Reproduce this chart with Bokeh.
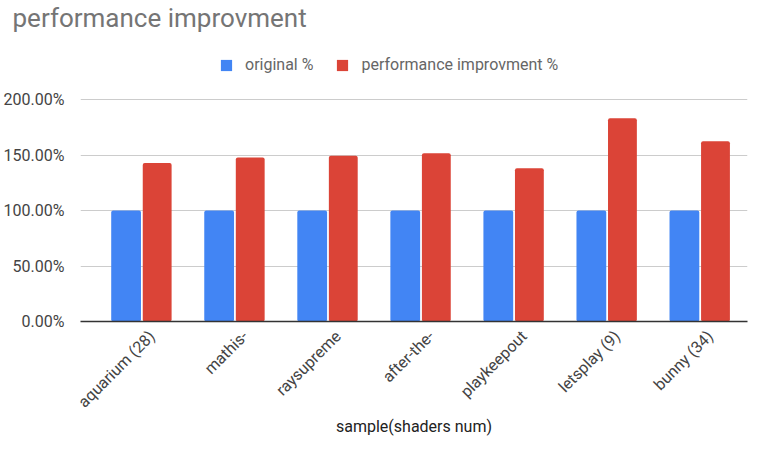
import math
from bokeh.plotting import figure
from bokeh.models import (ColumnDataSource, Range1d, FixedTicker, PrintfTickFormatter,
                          Legend, LegendItem)
from bokeh.transform import dodge
from bokeh.embed import file_html
from bokeh.resources import INLINE

categories = ["aquarium (28)", "mathis-", "raysupreme", "after-the-",
              "playkeepout", "letsplay (9)", "bunny (34)"]
original = [100, 100, 100, 100, 100, 100, 100]
improved = [143.0, 147.8, 149.4, 151.8, 138.3, 183.3, 162.6]
y_ticks = [0, 50, 100, 150, 200]

BLUE = "#4285F4"
RED = "#DB4437"
FONT = "Roboto"
LABEL_SHIFT = 0.11  # rotated labels end slightly right of the group centre

src = ColumnDataSource(dict(x=list(range(len(categories))), orig=original, imp=improved))

p = figure(width=749, height=438, output_backend="svg", toolbar_location=None,
           x_range=Range1d(-0.658, 6.51), y_range=Range1d(0, 260.6),
           min_border_left=72, min_border_right=2, min_border_top=30,
           min_border_bottom=110)
p.outline_line_color = None

r1 = p.vbar(x=dodge("x", -0.168), top="orig", width=0.32, bottom=0, source=src,
            fill_color=BLUE, line_color=None, border_radius=2)
r2 = p.vbar(x=dodge("x", 0.166), top="imp", width=0.31, bottom=0, source=src,
            fill_color=RED, line_color=None, border_radius=2)

# title
p.title.text = "performance improvment"
p.title.text_font = FONT
p.title.text_font_size = "26px"
p.title.text_font_style = "normal"
p.title.text_color = "#757575"
p.title.align = "left"
p.title.offset = -68
p.title.standoff = 0

# axes
tick_pos = [i + LABEL_SHIFT for i in range(len(categories))]
p.xaxis.ticker = FixedTicker(ticks=tick_pos)
p.xaxis.major_label_overrides = {t: c for t, c in zip(tick_pos, categories)}
p.xaxis.major_label_orientation = math.pi / 4
p.xaxis.major_label_text_font = FONT
p.xaxis.major_label_text_font_size = "16px"
p.xaxis.major_label_text_color = "#444444"
p.xaxis.major_tick_line_color = None
p.xaxis.minor_tick_line_color = None
p.xaxis.axis_line_color = "#333333"
p.xaxis.axis_line_width = 1.5
p.xaxis.major_label_standoff = 6
p.xaxis.axis_label = "sample(shaders num)"
p.xaxis.axis_label_text_font = FONT
p.xaxis.axis_label_text_font_size = "16px"
p.xaxis.axis_label_text_font_style = "normal"
p.xaxis.axis_label_text_color = "#222222"
p.xaxis.axis_label_standoff = -4

p.yaxis.ticker = FixedTicker(ticks=y_ticks)
p.yaxis.formatter = PrintfTickFormatter(format="%.2f%%")
p.yaxis.major_label_text_font = FONT
p.yaxis.major_label_text_font_size = "16px"
p.yaxis.major_label_text_color = "#444444"
p.yaxis.major_tick_line_color = None
p.yaxis.minor_tick_line_color = None
p.yaxis.axis_line_color = None
p.yaxis.major_label_standoff = 10

p.xgrid.grid_line_color = None
p.ygrid.grid_line_color = "#cccccc"

legend = Legend(items=[LegendItem(label="original %", renderers=[r1]),
                       LegendItem(label="performance improvment %", renderers=[r2])],
                orientation="horizontal", location=(139, 247),
                glyph_width=14, glyph_height=14, label_standoff=12, spacing=22,
                padding=0, margin=0, border_line_color=None, background_fill_alpha=0,
                label_text_font=FONT, label_text_font_size="16px",
                label_text_color="#666666")
p.add_layout(legend, "center")

open("out.html", "w").write(file_html(p, INLINE))
